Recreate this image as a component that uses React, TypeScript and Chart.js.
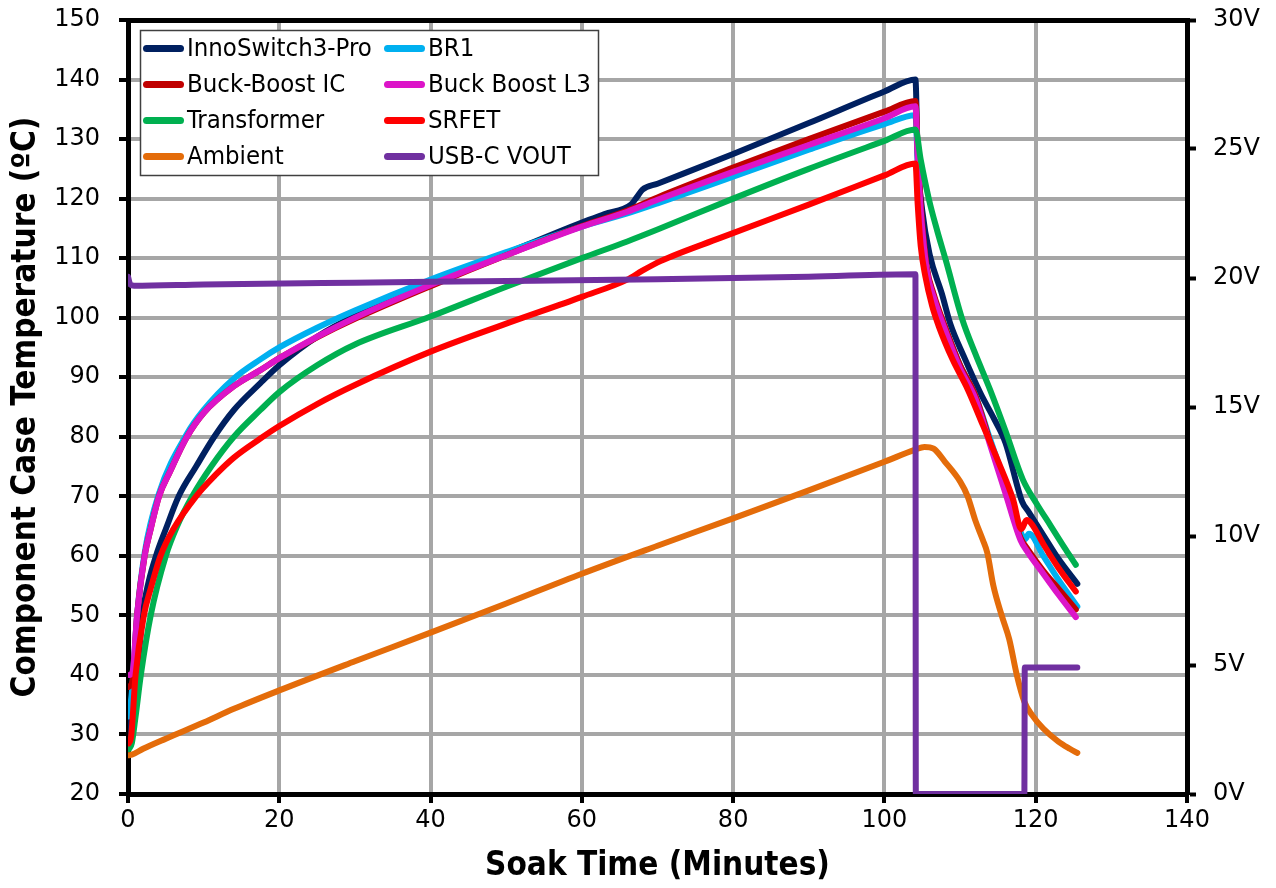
import React, { useEffect, useRef } from "react";
import { Chart, registerables } from "chart.js";

Chart.register(...registerables);

// ---------- Data ----------
const seriesNames = [
  "InnoSwitch3-Pro",
  "BR1",
  "Buck-Boost IC",
  "Buck Boost L3",
  "Transformer",
  "SRFET",
  "Ambient",
  "USB-C VOUT",
];

const innoT = [0.1, 0.5, 1.2, 1.9, 2.7, 3.7, 5, 6.7, 9, 11.4, 14, 17.5, 20, 25, 30, 40, 50, 60, 63, 66.5, 67.3, 68, 70, 80, 90, 100, 104.1, 104.4, 105, 106, 107.6, 108.7, 110.5, 112.7, 114.5, 116, 118.2, 119, 121, 123, 125.5];
const innoC = [30, 34, 40, 50, 55.5, 60, 64.5, 70, 75, 80, 84.5, 89, 92, 96.8, 100.3, 105.5, 110.8, 116, 117.4, 119, 120.3, 121.5, 122.5, 127.5, 132.7, 138, 140, 127, 118, 110.5, 104, 99, 93.5, 87.3, 83, 79, 69.1, 67.5, 63.5, 59.5, 55.3];

const br1T = [0.1, 0.5, 1.2, 2.2, 4.1, 7.8, 10, 14, 17.5, 20, 25, 30, 40, 50, 60, 66, 70, 80, 90, 100, 104.1, 104.4, 104.8, 105.6, 106.5, 108, 110, 112, 114, 116, 118, 118.6, 119.1, 121, 123, 125.5];
const br1C = [33, 37, 50, 60.5, 70.5, 80.5, 84.5, 89.8, 93, 95, 98.3, 101.2, 106.4, 111, 115.3, 117.5, 119.2, 123.7, 128.2, 132.5, 134, 126, 117.5, 108, 103.5, 98.5, 92, 87, 79.5, 72, 64, 62.8, 63.7, 60, 56, 51.5];

const bbicT = [0.1, 0.6, 1.2, 2.2, 3, 4.1, 5.5, 7.8, 10, 14, 17.5, 20, 25, 30, 40, 50, 60, 66, 70, 80, 90, 100, 104.1, 104.4, 104.8, 105.6, 106.5, 108, 110, 112, 114, 116, 118, 119, 121, 123, 125.3];
const bbicC = [38, 39, 50, 60, 64.5, 70, 74, 80, 84, 88.5, 91.2, 93.2, 96.7, 99.8, 105.3, 110.5, 115.4, 118, 120.2, 125.2, 130, 134.6, 136.4, 128, 119, 108.5, 104, 98.5, 92, 87, 79, 71, 63, 61, 57.5, 54.5, 51];

const bbl3T = [0.2, 0.6, 1.2, 2.2, 3, 4.1, 5.5, 7.8, 10, 14, 17.5, 20, 25, 30, 40, 50, 60, 66, 70, 80, 90, 100, 104.1, 104.4, 104.8, 105.6, 106.5, 108, 110, 112, 114, 116, 118, 119, 121, 123, 125.3];
const bbl3C = [40, 40.5, 50, 60, 64.5, 70, 74, 80, 84, 88.5, 91.2, 93.2, 96.8, 100, 105.5, 110.5, 115.3, 117.8, 119.8, 124.5, 129, 133.5, 135.5, 127, 118, 108, 103.5, 98, 91.5, 86.5, 78.5, 70.5, 62.6, 60.5, 57, 53.5, 49.7];

const xfmrT = [0.1, 0.5, 1, 1.7, 3, 5, 6.5, 8.5, 11, 14, 17.5, 20, 25, 30, 40, 50, 60, 66, 70, 80, 90, 100, 104.1, 104.8, 105.9, 107, 108.1, 110.3, 112, 114, 116, 118.3, 120, 122, 124, 125.3];
const xfmrC = [27.5, 28.5, 33, 40, 50, 60, 65, 70, 75, 80, 84.5, 87.5, 92, 95.5, 100.2, 105.2, 110, 112.8, 114.8, 120, 125, 129.7, 131.6, 126.5, 119.8, 114.5, 109.7, 99.7, 94, 87.8, 81, 72.8, 69, 65, 61, 58.5];

const srfetT = [0.1, 0.4, 1, 2.1, 3, 4.3, 6, 9, 11.5, 14, 17.5, 20, 25, 30, 40, 50, 60, 66, 68, 70.4, 78.3, 90, 100, 104.1, 104.4, 104.8, 105.4, 106.3, 107.2, 109, 111, 113, 115, 117, 118.1, 118.8, 119.5, 121, 123, 125.3];
const srfetC = [28.5, 29.5, 40, 50, 54.5, 60, 64.5, 70, 73.5, 76.5, 79.7, 81.8, 85.5, 88.7, 94.3, 99, 103.5, 106.4, 107.9, 109.5, 113.4, 119, 123.9, 125.9, 119, 112, 107, 102, 98.5, 93, 88, 82, 76, 69.5, 64.5, 66, 65.3, 62, 58, 54];

const ambT = [0, 0.5, 2, 5, 10, 14, 20, 30, 40, 50, 60, 70, 80, 90, 100, 104, 105.3, 106.5, 108, 110, 111, 112, 113, 113.6, 114.4, 115.5, 116.5, 117.5, 118.5, 119.5, 121, 123, 124.5, 125.5];
const ambC = [26.5, 26.6, 27.6, 29.3, 32, 34.3, 37.4, 42.3, 47.1, 52, 57, 61.7, 66.3, 71, 75.8, 77.8, 78.3, 78, 75.8, 72.5, 70, 66, 62.7, 60.5, 55, 50, 46, 40, 35.5, 33.3, 31, 28.8, 27.6, 26.9];

const voutT = [0, 0.3, 0.8, 10, 30, 50, 70, 90, 104.1, 104.15, 118.5, 118.55, 125.5];
const voutV = [20.05, 19.75, 19.7, 19.75, 19.82, 19.88, 19.95, 20.05, 20.15, 0, 0, 4.9, 4.9];

const seriesColors = ["#002060", "#00b0f0", "#c00000", "#dc14c8", "#00b050", "#ff0000", "#e46c0a", "#7030a0"];

const xTicks = [0, 20, 40, 60, 80, 100, 120, 140];
const tempTicks = [20, 30, 40, 50, 60, 70, 80, 90, 100, 110, 120, 130, 140, 150];
const voltTicks = [0, 5, 10, 15, 20, 25, 30];

const toPts = (xs: number[], ys: number[]) => xs.map((x, i) => ({ x, y: ys[i] }));

const FONT = '"DejaVu Sans Condensed", "DejaVu Sans", sans-serif';
const TICKFONT = '"DejaVu Sans", Verdana, sans-serif';

const insideLegend = {
  id: "insideLegend",
  afterDatasetsDraw(chart: any) {
    const ctx = chart.ctx;
    const ca = chart.chartArea;
    const x0 = ca.left + 12;
    const y0 = ca.top + 10;
    const w = 458;
    const h = 145;
    const colW = 241;
    ctx.save();
    ctx.fillStyle = "#ffffff";
    ctx.fillRect(x0, y0, w, h);
    ctx.strokeStyle = "#404040";
    ctx.lineWidth = 1.5;
    ctx.strokeRect(x0 + 0.5, y0 + 0.5, w, h);
    ctx.font = `25.5px ${FONT}`;
    ctx.textBaseline = "middle";
    ctx.textAlign = "left";
    chart.data.datasets.forEach((ds: any, i: number) => {
      const col = i % 2;
      const row = Math.floor(i / 2);
      const lx = x0 + 6.5 + col * colW;
      const ly = y0 + 18.5 + row * 36;
      ctx.strokeStyle = ds.borderColor;
      ctx.lineWidth = 7;
      ctx.lineCap = "round";
      ctx.beginPath();
      ctx.moveTo(lx, ly);
      ctx.lineTo(lx + 34, ly);
      ctx.stroke();
      ctx.fillStyle = "#000000";
      ctx.fillText(ds.label, lx + 40.5, ly + 1);
    });
    ctx.restore();
  },
};

export default function App() {
  const ref = useRef<HTMLCanvasElement | null>(null);

  useEffect(() => {
    if (!ref.current) return;
    const dataPairs: [number[], number[]][] = [
      [innoT, innoC],
      [br1T, br1C],
      [bbicT, bbicC],
      [bbl3T, bbl3C],
      [xfmrT, xfmrC],
      [srfetT, srfetC],
      [ambT, ambC],
      [voutT, voutV],
    ];
    const datasets = dataPairs.map(([xs, ys], i) => ({
      label: seriesNames[i],
      data: toPts(xs, ys),
      borderColor: seriesColors[i],
      backgroundColor: seriesColors[i],
      borderWidth: 6,
      pointRadius: 0,
      fill: false,
      cubicInterpolationMode: "monotone" as const,
      borderCapStyle: "round" as const,
      borderJoinStyle: "round" as const,
      yAxisID: i === 7 ? "y2" : "y",
      order: 8 - i,
    }));

    const tickFont = { family: TICKFONT, size: 24 };
    const titleFont = { family: FONT, size: 33, weight: "bold" as const };

    const chart = new Chart(ref.current, {
      type: "line",
      data: { datasets },
      plugins: [insideLegend],
      options: {
        responsive: false,
        animation: false,
        devicePixelRatio: 1,
        layout: { padding: 0 },
        plugins: { legend: { display: false }, tooltip: { enabled: false } },
        scales: {
          x: {
            type: "linear",
            position: "bottom",
            min: 0,
            max: 140,
            afterBuildTicks: (s: any) => {
              s.ticks = xTicks.map((v) => ({ value: v }));
            },
            ticks: { font: tickFont, color: "#000", padding: 3, maxRotation: 0 },
            grid: { color: "#a6a6a6", lineWidth: 4, tickColor: "#000", tickWidth: 4, tickLength: 9 },
            border: { color: "#000", width: 5 },
            title: { display: true, text: "Soak Time (Minutes)", font: titleFont, color: "#000", padding: { top: 0, bottom: 2 } },
            afterFit: (s: any) => {
              s.height = 94;
              s.paddingLeft = 0;
              s.paddingRight = 0;
            },
          },
          xTop: {
            type: "linear",
            position: "top",
            min: 0,
            max: 140,
            ticks: { display: false },
            grid: { drawOnChartArea: false, drawTicks: false },
            border: { color: "#000", width: 5 },
            afterFit: (s: any) => {
              s.height = 20;
              s.paddingLeft = 0;
              s.paddingRight = 0;
            },
          },
          y: {
            type: "linear",
            position: "left",
            min: 20,
            max: 150,
            afterBuildTicks: (s: any) => {
              s.ticks = tempTicks.map((v) => ({ value: v }));
            },
            ticks: { font: tickFont, color: "#000", padding: 19 },
            grid: { color: "#a6a6a6", lineWidth: 4, tickColor: "#000", tickWidth: 4, tickLength: 9 },
            border: { color: "#000", width: 5 },
            title: { display: true, text: "Component Case Temperature (ºC)", font: titleFont, color: "#000", padding: { top: 7, bottom: 0 } },
            afterFit: (s: any) => {
              s.width = 128;
              s.paddingTop = 0;
              s.paddingBottom = 0;
            },
          },
          y2: {
            type: "linear",
            position: "right",
            min: 0,
            max: 30,
            afterBuildTicks: (s: any) => {
              s.ticks = voltTicks.map((v) => ({ value: v }));
            },
            ticks: { font: tickFont, color: "#000", padding: 17, callback: (v: any) => `${v}V` },
            grid: { drawOnChartArea: false, tickColor: "#000", tickWidth: 4, tickLength: 9 },
            border: { color: "#000", width: 5 },
            afterFit: (s: any) => {
              s.width = 89;
              s.paddingTop = 0;
              s.paddingBottom = 0;
            },
          },
        },
      },
    });
    return () => chart.destroy();
  }, []);

  return (
    <div style={{ position: "absolute", left: 0, top: 0, width: 1276, height: 888, background: "#fff" }}>
      <canvas ref={ref} width={1276} height={888} style={{ display: "block" }} />
    </div>
  );
}
